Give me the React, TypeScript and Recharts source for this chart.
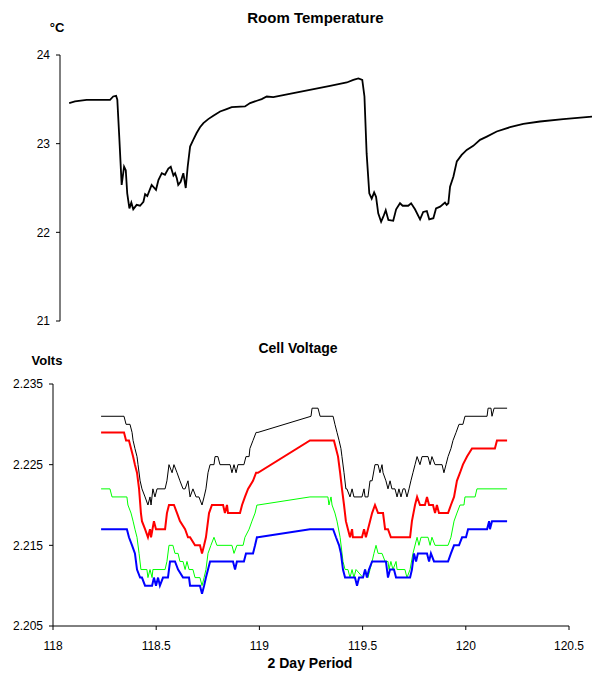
import { LineChart, Line, XAxis, YAxis } from "recharts";

// time axis is in days (118 .. 120.5), voltage in volts, temperature in °C
const tempTicks = [21, 22, 23, 24];
const voltTicks = [2.205, 2.215, 2.225, 2.235];
const dayTicks = [118, 118.5, 119, 119.5, 120, 120.5];

const roomTemp: [number, number][] = [
  [118.138, 23.458], [118.162, 23.476], [118.21, 23.495], [118.307, 23.495],
  [118.32, 23.532], [118.332, 23.54], [118.337, 23.495], [118.345, 23.08],
  [118.355, 22.535], [118.365, 22.74], [118.372, 22.7], [118.378, 22.44],
  [118.387, 22.27], [118.395, 22.335], [118.403, 22.26], [118.417, 22.31],
  [118.431, 22.3], [118.445, 22.345], [118.452, 22.43], [118.461, 22.41],
  [118.479, 22.535], [118.497, 22.48], [118.507, 22.59], [118.521, 22.667],
  [118.534, 22.65], [118.548, 22.72], [118.558, 22.74], [118.569, 22.64],
  [118.576, 22.667], [118.583, 22.61], [118.589, 22.535], [118.599, 22.57],
  [118.61, 22.667], [118.62, 22.5], [118.628, 22.74], [118.638, 22.967],
  [118.651, 23.043], [118.665, 23.12], [118.679, 23.186], [118.693, 23.232],
  [118.713, 23.277], [118.734, 23.314], [118.762, 23.363], [118.789, 23.39],
  [118.81, 23.412], [118.865, 23.42], [118.886, 23.458], [118.914, 23.484],
  [118.934, 23.503], [118.955, 23.532], [118.982, 23.525], [119.065, 23.57],
  [119.217, 23.653], [119.286, 23.69], [119.313, 23.72], [119.334, 23.735],
  [119.35, 23.72], [119.359, 23.532], [119.368, 22.89], [119.379, 22.44],
  [119.389, 22.38], [119.399, 22.45], [119.407, 22.4], [119.416, 22.215],
  [119.428, 22.12], [119.437, 22.176], [119.447, 22.25], [119.458, 22.14],
  [119.478, 22.13], [119.49, 22.26], [119.506, 22.328], [119.517, 22.3],
  [119.54, 22.3], [119.552, 22.328], [119.568, 22.26], [119.589, 22.147],
  [119.602, 22.23], [119.617, 22.24], [119.627, 22.147], [119.644, 22.16],
  [119.655, 22.27], [119.672, 22.29], [119.692, 22.335], [119.699, 22.31],
  [119.706, 22.328], [119.713, 22.515], [119.727, 22.63], [119.741, 22.8],
  [119.761, 22.873], [119.782, 22.93], [119.809, 22.975], [119.837, 23.043],
  [119.865, 23.08], [119.906, 23.137], [119.961, 23.186], [120.016, 23.224],
  [120.085, 23.25], [120.181, 23.277], [120.3, 23.306],
];

const cellBlack: [number, number][] = [
  [118.233, 2.231], [118.344, 2.231], [118.354, 2.23], [118.373, 2.23],
  [118.383, 2.229], [118.388, 2.228], [118.397, 2.227], [118.407, 2.226],
  [118.412, 2.225], [118.422, 2.223], [118.431, 2.222], [118.446, 2.221],
  [118.46, 2.22], [118.47, 2.221], [118.475, 2.22], [118.484, 2.222],
  [118.494, 2.221], [118.504, 2.222], [118.543, 2.222], [118.552, 2.223],
  [118.562, 2.225], [118.577, 2.224], [118.586, 2.225], [118.601, 2.224],
  [118.615, 2.223], [118.63, 2.222], [118.64, 2.222], [118.654, 2.223],
  [118.664, 2.221], [118.678, 2.222], [118.693, 2.221], [118.707, 2.221],
  [118.722, 2.22], [118.732, 2.221], [118.741, 2.222], [118.751, 2.224],
  [118.761, 2.225], [118.78, 2.225], [118.785, 2.226], [118.799, 2.226],
  [118.809, 2.225], [118.858, 2.225], [118.867, 2.224], [118.877, 2.225],
  [118.887, 2.224], [118.896, 2.225], [118.925, 2.225], [118.935, 2.226],
  [118.95, 2.226], [118.954, 2.227], [118.969, 2.228], [118.984, 2.229],
  [118.993, 2.229], [119.25, 2.231], [119.255, 2.232], [119.284, 2.232],
  [119.294, 2.231], [119.357, 2.231], [119.366, 2.23], [119.376, 2.229],
  [119.386, 2.228], [119.395, 2.227], [119.4, 2.226], [119.41, 2.224],
  [119.419, 2.222], [119.424, 2.222], [119.439, 2.221], [119.449, 2.222],
  [119.458, 2.221], [119.497, 2.221], [119.507, 2.222], [119.512, 2.221],
  [119.526, 2.221], [119.536, 2.223], [119.546, 2.223], [119.56, 2.225],
  [119.575, 2.225], [119.584, 2.224], [119.594, 2.225], [119.599, 2.224],
  [119.613, 2.223], [119.623, 2.222], [119.633, 2.223], [119.642, 2.222],
  [119.657, 2.222], [119.667, 2.221], [119.676, 2.222], [119.686, 2.221],
  [119.696, 2.222], [119.705, 2.222], [119.715, 2.221], [119.725, 2.222],
  [119.734, 2.223], [119.744, 2.224], [119.754, 2.225], [119.764, 2.226],
  [119.778, 2.225], [119.788, 2.226], [119.817, 2.226], [119.827, 2.225],
  [119.836, 2.226], [119.851, 2.225], [119.885, 2.225], [119.894, 2.224],
  [119.904, 2.225], [119.914, 2.226], [119.928, 2.227], [119.938, 2.228],
  [119.953, 2.229], [119.967, 2.23], [119.986, 2.23], [119.996, 2.231],
  [120.103, 2.231], [120.108, 2.232], [120.122, 2.232], [120.127, 2.231],
  [120.137, 2.232], [120.2, 2.232],
];

const cellRed: [number, number][] = [
  [118.233, 2.229], [118.344, 2.229], [118.354, 2.228], [118.368, 2.228],
  [118.378, 2.227], [118.388, 2.226], [118.397, 2.225], [118.407, 2.224],
  [118.417, 2.222], [118.426, 2.219], [118.431, 2.218], [118.446, 2.217],
  [118.46, 2.216], [118.47, 2.217], [118.475, 2.216], [118.489, 2.218],
  [118.499, 2.217], [118.543, 2.217], [118.552, 2.219], [118.562, 2.22],
  [118.586, 2.22], [118.601, 2.219], [118.615, 2.218], [118.64, 2.217],
  [118.654, 2.216], [118.664, 2.216], [118.688, 2.215], [118.712, 2.215],
  [118.722, 2.214], [118.732, 2.215], [118.741, 2.216], [118.756, 2.219],
  [118.77, 2.22], [118.824, 2.22], [118.833, 2.219], [118.843, 2.22],
  [118.848, 2.219], [118.906, 2.219], [118.916, 2.22], [118.93, 2.221],
  [118.945, 2.222], [118.969, 2.223], [118.984, 2.224], [118.993, 2.224],
  [119.245, 2.228], [119.361, 2.228], [119.371, 2.227], [119.381, 2.226],
  [119.391, 2.224], [119.4, 2.222], [119.41, 2.22], [119.419, 2.218],
  [119.429, 2.217], [119.439, 2.216], [119.449, 2.217], [119.453, 2.216],
  [119.497, 2.216], [119.507, 2.217], [119.516, 2.216], [119.526, 2.217],
  [119.536, 2.218], [119.546, 2.219], [119.56, 2.22], [119.575, 2.219],
  [119.599, 2.219], [119.609, 2.217], [119.623, 2.217], [119.637, 2.216],
  [119.73, 2.216], [119.739, 2.218], [119.754, 2.22], [119.764, 2.221],
  [119.778, 2.22], [119.802, 2.22], [119.812, 2.221], [119.822, 2.22],
  [119.841, 2.22], [119.851, 2.219], [119.86, 2.22], [119.87, 2.219],
  [119.914, 2.219], [119.928, 2.22], [119.943, 2.221], [119.957, 2.223],
  [119.972, 2.224], [119.986, 2.225], [120.006, 2.226], [120.03, 2.227],
  [120.141, 2.227], [120.151, 2.228], [120.2, 2.228],
];

const cellGreen: [number, number][] = [
  [118.233, 2.222], [118.276, 2.222], [118.286, 2.221], [118.358, 2.221],
  [118.363, 2.22], [118.378, 2.219], [118.388, 2.218], [118.397, 2.217],
  [118.407, 2.216], [118.417, 2.214], [118.426, 2.212], [118.455, 2.212],
  [118.46, 2.211], [118.47, 2.212], [118.48, 2.211], [118.484, 2.212],
  [118.543, 2.212], [118.552, 2.213], [118.562, 2.215], [118.581, 2.215],
  [118.591, 2.214], [118.606, 2.214], [118.615, 2.213], [118.63, 2.213],
  [118.64, 2.212], [118.649, 2.213], [118.659, 2.212], [118.678, 2.212],
  [118.688, 2.211], [118.712, 2.211], [118.722, 2.21], [118.732, 2.211],
  [118.741, 2.212], [118.751, 2.214], [118.765, 2.215], [118.78, 2.216],
  [118.794, 2.215], [118.867, 2.215], [118.877, 2.214], [118.891, 2.215],
  [118.921, 2.215], [118.93, 2.216], [118.95, 2.217], [118.964, 2.218],
  [118.979, 2.219], [118.988, 2.22], [118.993, 2.22], [119.245, 2.221],
  [119.332, 2.221], [119.337, 2.22], [119.347, 2.221], [119.352, 2.22],
  [119.366, 2.219], [119.376, 2.218], [119.391, 2.216], [119.405, 2.213],
  [119.415, 2.212], [119.429, 2.212], [119.439, 2.211], [119.449, 2.212],
  [119.458, 2.211], [119.468, 2.212], [119.502, 2.211], [119.512, 2.212],
  [119.526, 2.211], [119.536, 2.212], [119.546, 2.213], [119.555, 2.214],
  [119.565, 2.215], [119.575, 2.214], [119.594, 2.214], [119.609, 2.213],
  [119.623, 2.213], [119.628, 2.212], [119.637, 2.213], [119.647, 2.212],
  [119.662, 2.213], [119.667, 2.212], [119.705, 2.212], [119.715, 2.211],
  [119.73, 2.212], [119.744, 2.214], [119.764, 2.216], [119.773, 2.215],
  [119.783, 2.216], [119.817, 2.216], [119.827, 2.215], [119.836, 2.216],
  [119.851, 2.215], [119.914, 2.215], [119.928, 2.216], [119.943, 2.218],
  [119.957, 2.219], [119.972, 2.22], [119.991, 2.22], [119.996, 2.221],
  [120.045, 2.221], [120.054, 2.222], [120.2, 2.222],
];

const cellBlue: [number, number][] = [
  [118.233, 2.217], [118.358, 2.217], [118.368, 2.216], [118.383, 2.215],
  [118.397, 2.214], [118.407, 2.212], [118.422, 2.211], [118.431, 2.211],
  [118.446, 2.21], [118.48, 2.21], [118.489, 2.211], [118.499, 2.21],
  [118.509, 2.211], [118.518, 2.21], [118.533, 2.211], [118.557, 2.211],
  [118.567, 2.213], [118.591, 2.213], [118.606, 2.212], [118.63, 2.211],
  [118.659, 2.211], [118.664, 2.21], [118.712, 2.21], [118.722, 2.209],
  [118.732, 2.21], [118.741, 2.211], [118.761, 2.213], [118.872, 2.213],
  [118.882, 2.212], [118.891, 2.213], [118.925, 2.213], [118.935, 2.214],
  [118.969, 2.214], [118.979, 2.215], [118.988, 2.216], [118.993, 2.216],
  [119.245, 2.217], [119.357, 2.217], [119.371, 2.216], [119.386, 2.215],
  [119.395, 2.214], [119.405, 2.212], [119.415, 2.211], [119.463, 2.211],
  [119.473, 2.21], [119.483, 2.211], [119.502, 2.211], [119.512, 2.212],
  [119.521, 2.211], [119.531, 2.212], [119.546, 2.213], [119.613, 2.213],
  [119.623, 2.211], [119.633, 2.212], [119.652, 2.212], [119.662, 2.211],
  [119.73, 2.211], [119.739, 2.212], [119.749, 2.214], [119.759, 2.213],
  [119.768, 2.214], [119.812, 2.214], [119.822, 2.213], [119.831, 2.214],
  [119.846, 2.213], [119.914, 2.213], [119.928, 2.214], [119.943, 2.215],
  [119.967, 2.215], [119.982, 2.216], [120.001, 2.216], [120.011, 2.217],
  [120.103, 2.217], [120.113, 2.218], [120.117, 2.217], [120.127, 2.218],
  [120.2, 2.218],
];

const toPoints = (rows: [number, number][]) => rows.map(([t, v]) => ({ t, v }));

const font = "'Liberation Sans', Arial, sans-serif";
const tickStyle = { fontSize: 12, fill: "#000", fontFamily: font };

const cellSeries = [
  { name: "black", rows: cellBlack, color: "#000000", width: 1 },
  { name: "red", rows: cellRed, color: "#ff0000", width: 2 },
  { name: "green", rows: cellGreen, color: "#00ff00", width: 1 },
  { name: "blue", rows: cellBlue, color: "#0000ff", width: 2 },
];

export default function App() {
  return (
    <div
      style={{
        position: "absolute",
        left: 0,
        top: 0,
        width: 592,
        height: 673,
        overflow: "hidden",
        background: "#fff",
      }}
    >
      <div style={{ position: "absolute", left: 0, top: 0 }}>
        <LineChart width={592} height={330} margin={{ top: 55, right: 0, bottom: 9, left: 0 }}>
          <XAxis type="number" dataKey="t" domain={[118.1, 120.3]} hide allowDataOverflow />
          <YAxis
            type="number"
            domain={[21, 24]}
            ticks={tempTicks}
            interval={0}
            width={60}
            tickSize={4}
            tickMargin={6}
            stroke="#000"
            tick={tickStyle}
          />
          <Line
            data={toPoints(roomTemp)}
            dataKey="v"
            stroke="#000"
            strokeWidth={1.8}
            dot={false}
            isAnimationActive={false}
          />
        </LineChart>
      </div>

      <div style={{ position: "absolute", left: 0, top: 330 }}>
        <LineChart width={592} height={343} margin={{ top: 54, right: 23, bottom: 17, left: 0 }}>
          <XAxis
            type="number"
            dataKey="t"
            domain={[118, 120.5]}
            ticks={dayTicks}
            interval={0}
            height={30}
            tickSize={4}
            tickMargin={11}
            stroke="#000"
            tick={tickStyle}
            allowDataOverflow
          />
          <YAxis
            type="number"
            domain={[2.205, 2.235]}
            ticks={voltTicks}
            interval={0}
            width={53}
            tickSize={4}
            tickMargin={6}
            stroke="#000"
            tick={tickStyle}
            tickFormatter={(v: number) => v.toFixed(3)}
            allowDataOverflow
          />
          {cellSeries.map((s) => (
            <Line
              key={s.name}
              data={toPoints(s.rows)}
              dataKey="v"
              stroke={s.color}
              strokeWidth={s.width}
              dot={false}
              isAnimationActive={false}
            />
          ))}
        </LineChart>
      </div>

      <svg
        width={592}
        height={673}
        style={{ position: "absolute", left: 0, top: 0, pointerEvents: "none" }}
        fontFamily={font}
        fontWeight="bold"
        fill="#000"
      >
        <text x={315.5} y={22.5} fontSize={15} textAnchor="middle">Room Temperature</text>
        <text x={57} y={31.5} fontSize={13} textAnchor="middle">°C</text>
        <text x={298} y={352.5} fontSize={14} textAnchor="middle">Cell Voltage</text>
        <text x={47} y={365} fontSize={13} textAnchor="middle">Volts</text>
        <text x={310} y={668} fontSize={14} textAnchor="middle">2 Day Period</text>
      </svg>
    </div>
  );
}
